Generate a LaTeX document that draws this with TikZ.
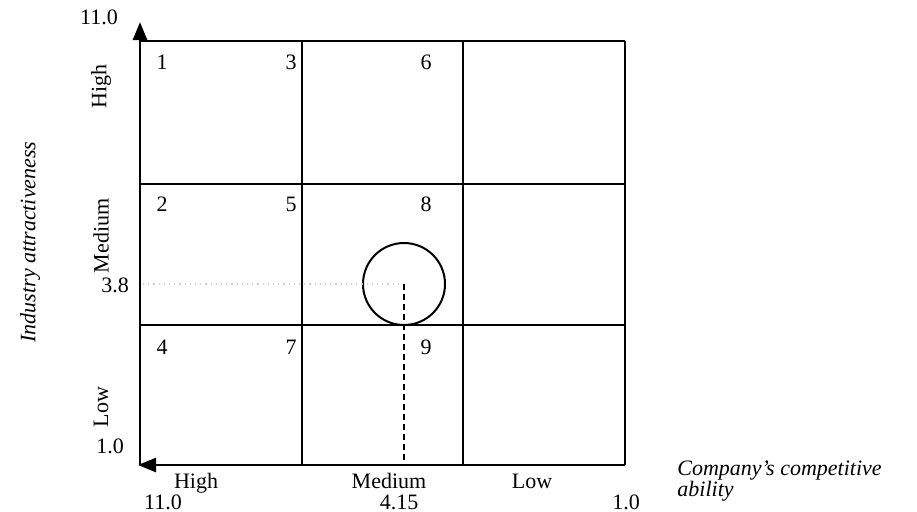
\documentclass[tikz,border=0pt]{standalone}
\usepackage{fontspec}
\setmainfont{Liberation Serif}
\usetikzlibrary{arrows.meta}
\begin{document}
\begin{tikzpicture}[x=0.5pt,y=-0.5pt,
  grid/.style={line width=1pt},
  axis/.style={line width=1.3pt,-{Triangle[length=9pt,width=7pt]}},
  lbl/.style={inner sep=0pt,font=\fontsize{11}{13}\selectfont},
  num/.style={lbl},
  rlbl/.style={lbl,rotate=90}]
\useasboundingbox (0,0) rectangle (917,511);
% grid
\coordinate (o) at (140,465);
\coordinate (ytop) at (140,22);
\coordinate (xend) at (625,465);
\draw[grid] (140,41) -- (625,41);
\draw[grid] (140,184) -- (625,184);
\draw[grid] (140,325) -- (625,325);
\draw[grid] (302,41) -- (302,465);
\draw[grid] (463,41) -- (463,465);
\draw[grid] (625,41) -- (625,465);
\draw[axis] (o) -- (ytop);
\draw[axis] (xend) -- (138,465);
% circle and guides
\node[draw,circle,line width=1pt,minimum size=41pt,inner sep=0pt] (c) at (404,284) {};
\coordinate (ym) at (143,284);
\coordinate (xm) at (404,465);
\draw[gray!40,dotted,line width=0.6pt] (ym) -- (c.center);
\draw[dashed,line width=0.7pt,dash pattern=on 3pt off 2pt] (c.center) -- (xm);
% cell numbers
\node[num] (n1) at (162,62) {1};
\node[num] (n3) at (291,62) {3};
\node[num] (n6) at (426,62) {6};
\node[num] (n2) at (162,204) {2};
\node[num] (n5) at (291,204) {5};
\node[num] (n8) at (426,204) {8};
\node[num] (n4) at (162,347) {4};
\node[num] (n7) at (291,347) {7};
\node[num] (n9) at (426,347) {9};
% y axis labels
\node[lbl] (y11) at (99,17) {11.0};
\node[rlbl] (yh) at (101,86) {High};
\node[rlbl] (ymed) at (101,236) {Medium};
\node[lbl] (y38) at (115,285) {3.8};
\node[rlbl] (ylow) at (101,407) {Low};
\node[lbl] (y10) at (110,446) {1.0};
\node[rlbl,font=\fontsize{11}{13}\selectfont\itshape] (ytitle) at (30,242) {Industry attractiveness};
% x axis labels
\node[lbl] (xh) at (196,483) {High};
\node[lbl] (x11) at (163,502) {11.0};
\node[lbl] (xmed) at (389,481) {Medium};
\node[lbl] (x415) at (399,502) {4.15};
\node[lbl] (xlow) at (532,481) {Low};
\node[lbl] (x10) at (626,502) {1.0};
\node[lbl,font=\fontsize{11}{10.5}\selectfont\itshape,align=left,anchor=north west] (xtitle) at (677,460) {Company's competitive\\ability};
\end{tikzpicture}
\end{document}
